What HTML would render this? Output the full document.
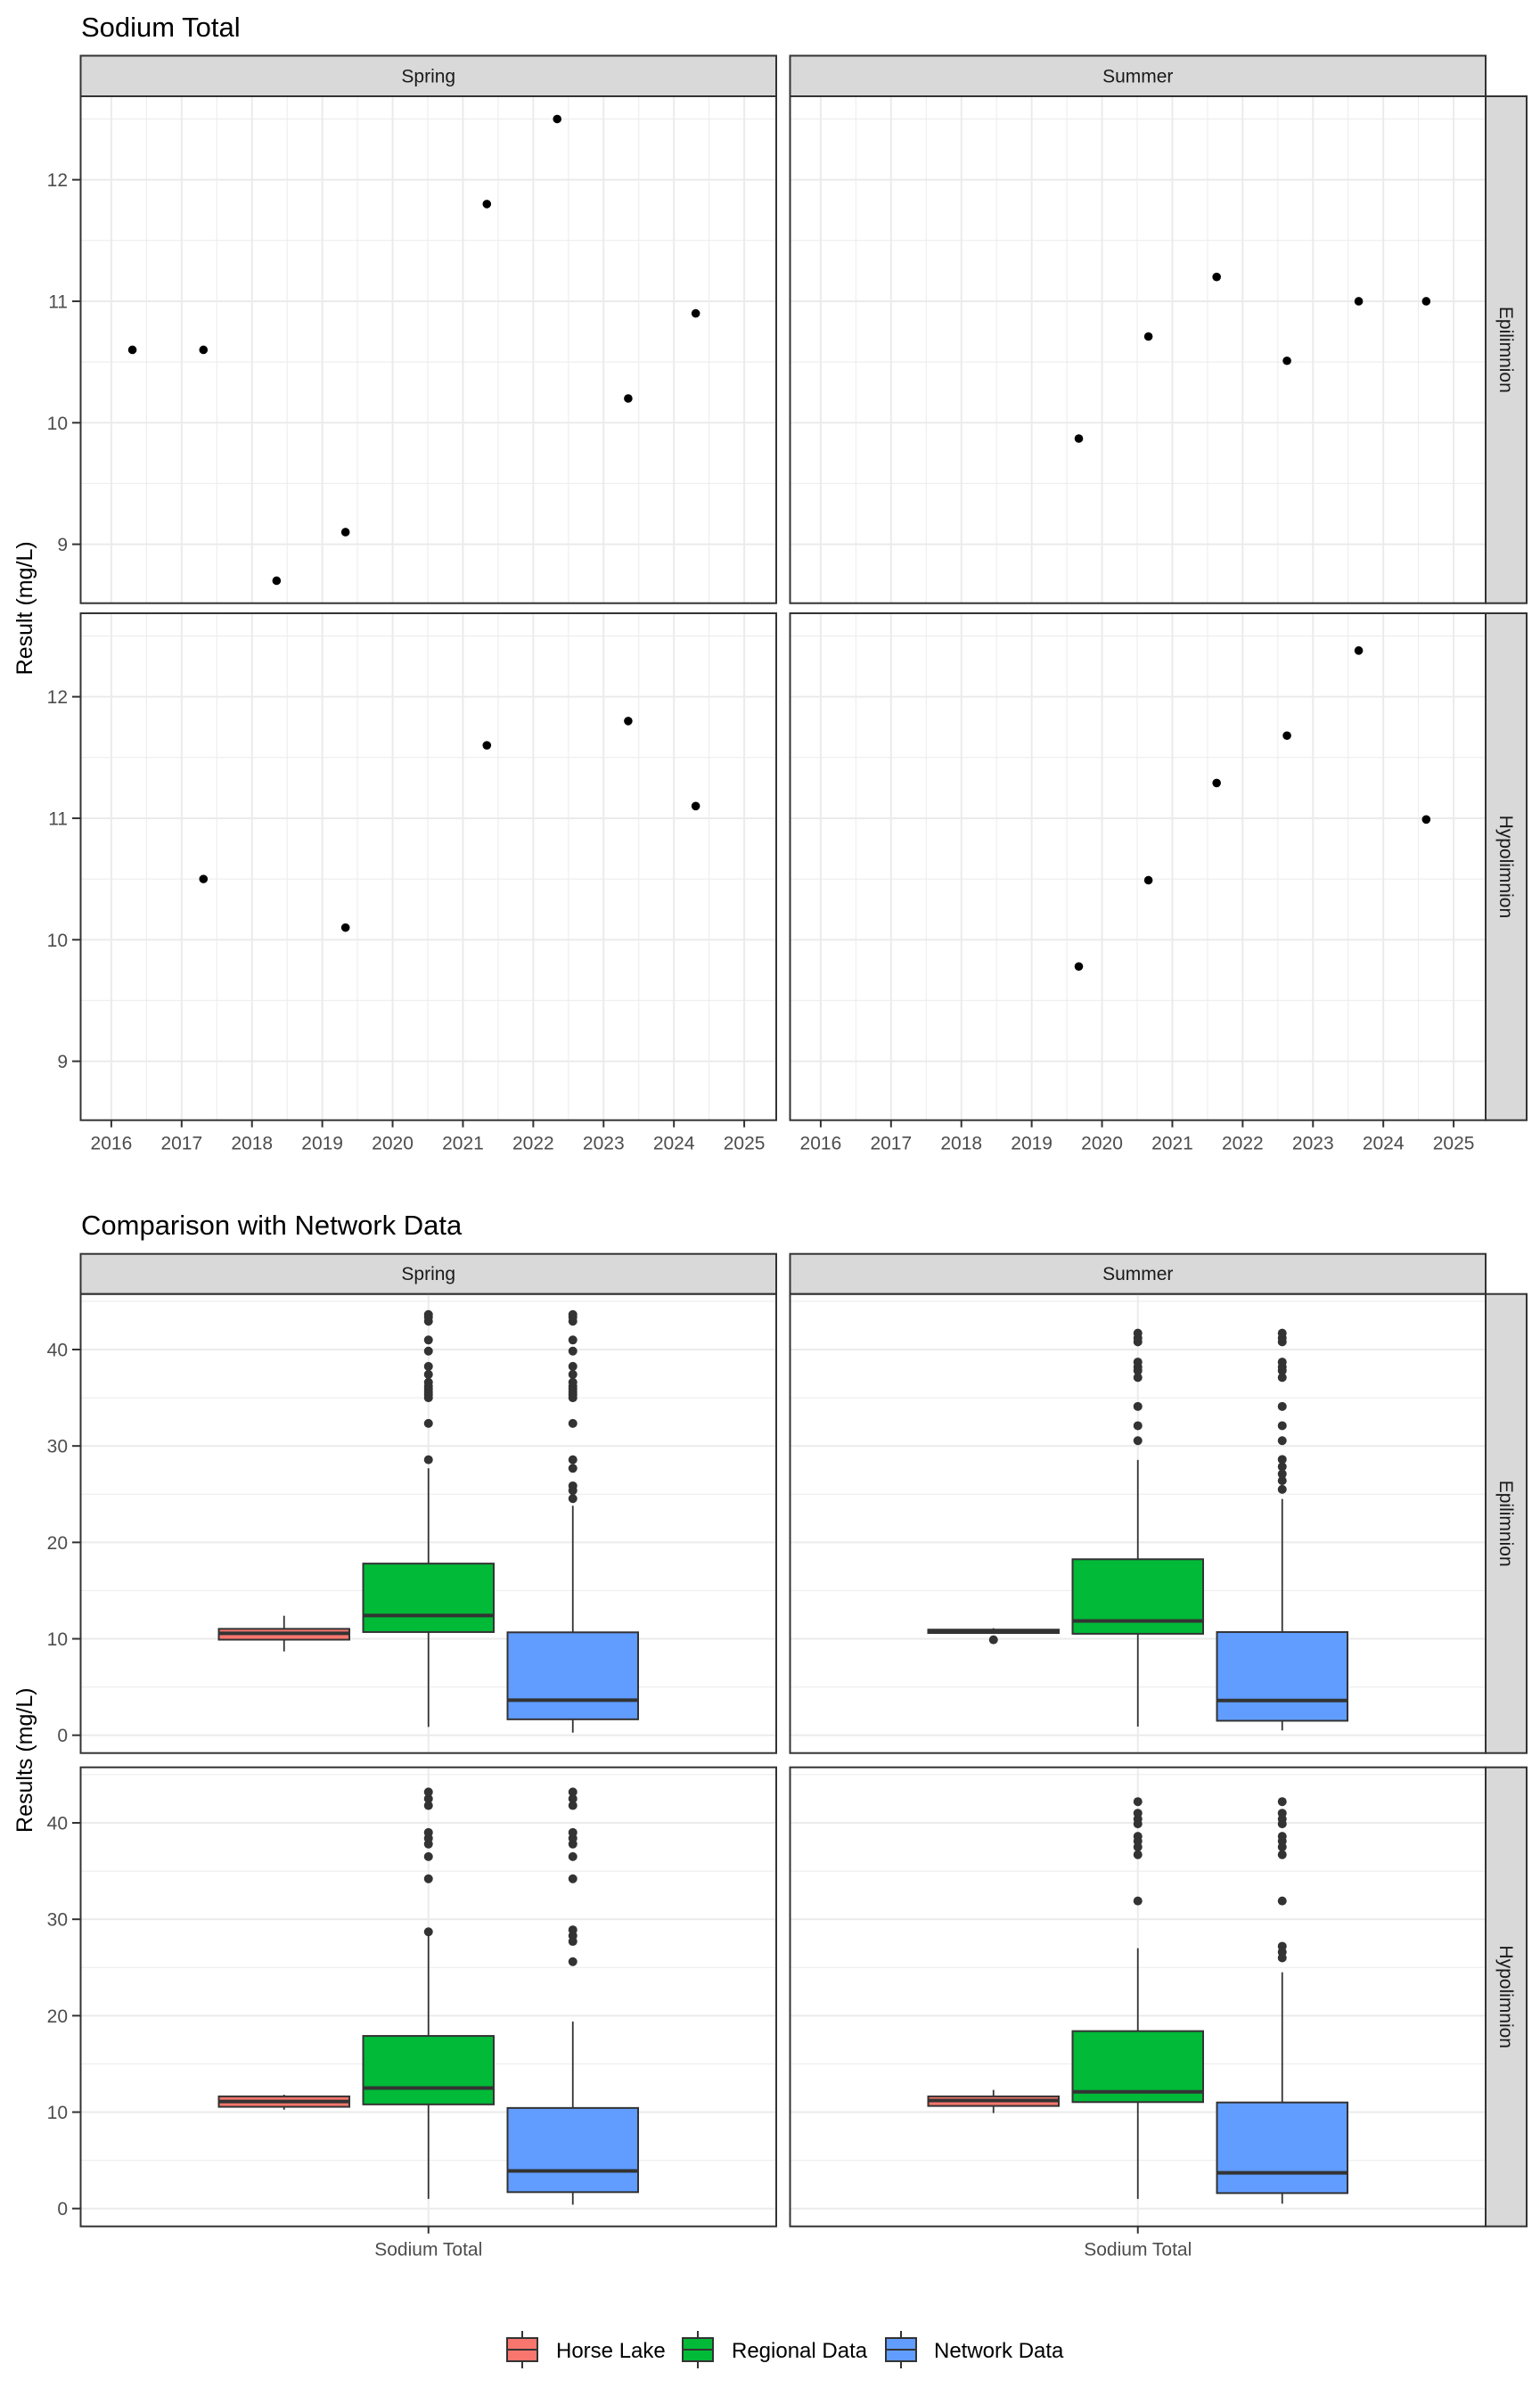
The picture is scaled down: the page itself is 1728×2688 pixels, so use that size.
<!DOCTYPE html>
<html><head><meta charset="utf-8"><title>Sodium Total</title>
<style>
html,body{margin:0;padding:0;background:#fff;}
svg{display:block;font-family:"Liberation Sans",Arial,sans-serif;}
</style></head>
<body>
<svg id="chart" width="1728" height="2688" viewBox="0 0 1728 2688" xmlns="http://www.w3.org/2000/svg">
<rect width="1728" height="2688" fill="#fff"/>
<g id="top"></g><g id="bottom"></g>
</svg>
<script>
// ---------- Data: scatter (Sodium Total over years) ----------
const yearTicks = [2016,2017,2018,2019,2020,2021,2022,2023,2024,2025];
const scatterYTicks = [9,10,11,12];
const springEpiYears = [2016.30,2017.31,2018.35,2019.33,2021.34,2022.34,2023.35,2024.31];
const springEpiValues = [10.6,10.6,8.7,9.1,11.8,12.5,10.2,10.9];
const summerEpiYears = [2019.67,2020.66,2021.63,2022.63,2023.65,2024.61];
const summerEpiValues = [9.87,10.71,11.2,10.51,11.0,11.0];
const springHypoYears = [2017.31,2019.33,2021.34,2023.35,2024.31];
const springHypoValues = [10.5,10.1,11.6,11.8,11.1];
const summerHypoYears = [2019.67,2020.66,2021.63,2022.63,2023.65,2024.61];
const summerHypoValues = [9.78,10.49,11.29,11.68,12.38,10.99];

// ---------- Data: boxplots [lowWhisker,q1,median,q3,highWhisker] ----------
const groups = ["Horse Lake","Regional Data","Network Data"];
const boxYTicks = [0,10,20,30,40];
const springEpiBoxes = [[8.69,9.91,10.57,11.03,12.39],[0.86,10.70,12.42,17.80,27.68],[0.27,1.65,3.64,10.67,23.8]];
const springEpiOutliers = [[],
  [28.57,32.34,35.0,35.3,35.6,35.9,36.2,36.6,37.42,38.25,39.84,40.99,42.94,43.37,43.63],
  [24.54,25.37,25.86,27.68,28.57,32.34,35.0,35.3,35.6,35.9,36.2,36.6,37.42,38.25,39.84,40.99,42.94,43.37,43.63]];
const summerEpiBoxes = [[10.5,10.6,10.75,10.95,11.1],[0.9,10.52,11.85,18.25,28.55],[0.5,1.5,3.6,10.7,24.5]];
const summerEpiOutliers = [[9.9],
  [30.55,32.1,34.1,37.1,37.8,38.2,38.7,40.8,41.2,41.7],
  [25.5,26.4,27.1,27.85,28.6,30.55,32.1,34.1,37.1,37.8,38.2,38.7,40.8,41.2,41.7]];
const springHypoBoxes = [[10.25,10.55,11.1,11.63,11.8],[1.0,10.8,12.5,17.9,28.5],[0.4,1.7,3.9,10.43,19.4]];
const springHypoOutliers = [[],
  [28.7,34.2,36.5,37.8,38.4,39.0,41.8,42.5,43.2],
  [25.6,27.7,28.3,28.9,34.2,36.5,37.8,38.4,39.0,41.8,42.5,43.2]];
const summerHypoBoxes = [[9.9,10.64,11.2,11.63,12.3],[1.0,11.04,12.1,18.4,27.0],[0.5,1.6,3.7,11.0,24.5]];
const summerHypoOutliers = [[],
  [31.9,36.7,37.5,38.1,38.6,39.9,40.4,41.0,42.2],
  [26.0,26.6,27.2,31.9,36.7,37.5,38.1,38.6,39.9,40.4,41.0,42.2]];
const fills = ["#F8766D","#00BA38","#619CFF"];

// ---------- helpers ----------
const NS = "http://www.w3.org/2000/svg";
function mk(parent, tag, attrs, text){
  const e = document.createElementNS(NS, tag);
  for (const k in attrs) e.setAttribute(k, attrs[k]);
  if (text !== undefined) e.textContent = text;
  parent.appendChild(e);
  return e;
}
const cols = [[90.5,871],[886.5,1667]];
const colNames = ["Spring","Summer"];
const rowNames = ["Epilimnion","Hypolimnion"];

function drawStrips(g, stripTop, stripBot, rows){
  cols.forEach((c,i)=>{
    const r = mk(g,"rect",{x:c[0],y:stripTop,width:c[1]-c[0],height:stripBot-stripTop,fill:"#D9D9D9",stroke:"#333",'stroke-width':2});
    
    
    const t = mk(g,"text",{x:(c[0]+c[1])/2,y:(stripTop+stripBot)/2+7,'text-anchor':'middle','font-size':21,fill:'#1A1A1A'},colNames[i]);
    
    
  });
  rows.forEach((rw,i)=>{
    const r = mk(g,"rect",{x:1667,y:rw[0],width:46,height:rw[1]-rw[0],fill:"#D9D9D9",stroke:"#333",'stroke-width':2});
    
    
    const cy=(rw[0]+rw[1])/2;
    const t = mk(g,"text",{x:1690,y:cy,'text-anchor':'middle','font-size':21,fill:'#1A1A1A',transform:`rotate(90 1690 ${cy}) translate(0 7)`},rowNames[i]);
    
    
  });
}

// ---------- TOP: scatter ----------
(function(){
  const g = document.getElementById('top');
  const rows = [[108,676.7],[688,1256.7]];
  const yDom = [8.515,12.687], xDom=[2015.564,2025.455];
  const title = mk(g,"text",{x:91,y:41,'font-size':31,fill:'#000'},"Sodium Total");
  
  
  drawStrips(g, 62.5, 108, rows);
  const data = [[[springEpiYears,springEpiValues],[summerEpiYears,summerEpiValues]],
                [[springHypoYears,springHypoValues],[summerHypoYears,summerHypoValues]]];
  rows.forEach((rw,ri)=>{
    const ys = v => rw[1] - (v-yDom[0])/(yDom[1]-yDom[0])*(rw[1]-rw[0]);
    cols.forEach((c,ci)=>{
      const xs = v => c[0] + (v-xDom[0])/(xDom[1]-xDom[0])*(c[1]-c[0]);
      const p = mk(g,"g",{});
      
      
      // minor grid
      for (let k=0;k<yearTicks.length-1;k++){ const x=xs(yearTicks[k]+0.5); mk(p,"line",{x1:x,x2:x,y1:rw[0],y2:rw[1],stroke:'#EBEBEB','stroke-width':1}); }
      for (let k=0;k<scatterYTicks.length;k++){ const y=ys(scatterYTicks[k]+0.5); if(y>rw[0]) mk(p,"line",{x1:c[0],x2:c[1],y1:y,y2:y,stroke:'#EBEBEB','stroke-width':1}); }
      const y85=ys(8.5); if(y85<rw[1]) mk(p,"line",{x1:c[0],x2:c[1],y1:y85,y2:y85,stroke:'#EBEBEB','stroke-width':1});
      // major grid
      yearTicks.forEach(t=>{ const x=xs(t); mk(p,"line",{x1:x,x2:x,y1:rw[0],y2:rw[1],stroke:'#EBEBEB','stroke-width':2}); });
      scatterYTicks.forEach(t=>{ const y=ys(t); mk(p,"line",{x1:c[0],x2:c[1],y1:y,y2:y,stroke:'#EBEBEB','stroke-width':2}); });
      const [xv,yv] = data[ri][ci];
      xv.forEach((yr,k)=>{
        const d = mk(p,"circle",{cx:xs(yr),cy:ys(yv[k]),r:4.8,fill:'#000'});
        
        
      });
      mk(p,"rect",{x:c[0],y:rw[0],width:c[1]-c[0],height:rw[1]-rw[0],fill:'none',stroke:'#333','stroke-width':2});
      if (ci===0){
        scatterYTicks.forEach(t=>{ const y=ys(t);
          mk(g,"line",{x1:81,x2:c[0],y1:y,y2:y,stroke:'#333','stroke-width':2});
          const tl = mk(g,"text",{x:76,y:y+7.5,'text-anchor':'end','font-size':21,fill:'#4D4D4D'},String(t));
          
          
        });
      }
      if (ri===1){
        yearTicks.forEach(t=>{ const x=xs(t);
          mk(g,"line",{x1:x,x2:x,y1:rw[1],y2:rw[1]+8,stroke:'#333','stroke-width':2});
          const tl = mk(g,"text",{x:x,y:rw[1]+33,'text-anchor':'middle','font-size':21,fill:'#4D4D4D'},String(t));
          
          
        });
      }
    });
  });
  const cy=(108+1256.7)/2;
  const at = mk(g,"text",{x:36,y:cy,'text-anchor':'middle','font-size':25,fill:'#000',transform:`rotate(-90 36 ${cy})`},"Result (mg/L)");
  
  
})();

// ---------- BOTTOM: boxplots ----------
(function(){
  const g = document.getElementById('bottom');
  const rows = [[1451.7,1966.7],[1982.7,2497.7]];
  const yDom = [-1.85,45.76];
  const title = mk(g,"text",{x:91,y:1385,'font-size':31,fill:'#000'},"Comparison with Network Data");
  
  
  drawStrips(g, 1406.7, 1451.7, rows);
  const boxes = [[springEpiBoxes,summerEpiBoxes],[springHypoBoxes,summerHypoBoxes]];
  const outs = [[springEpiOutliers,summerEpiOutliers],[springHypoOutliers,summerHypoOutliers]];
  const dodge = 162, bw = 146.5;
  rows.forEach((rw,ri)=>{
    const ys = v => rw[1] - (v-yDom[0])/(yDom[1]-yDom[0])*(rw[1]-rw[0]);
    cols.forEach((c,ci)=>{
      const cx0 = (c[0]+c[1])/2;
      const p = mk(g,"g",{});
      
      
      [5,15,25,35,45].forEach(t=>{ const y=ys(t); mk(p,"line",{x1:c[0],x2:c[1],y1:y,y2:y,stroke:'#EBEBEB','stroke-width':1}); });
      boxYTicks.forEach(t=>{ const y=ys(t); mk(p,"line",{x1:c[0],x2:c[1],y1:y,y2:y,stroke:'#EBEBEB','stroke-width':2}); });
      mk(p,"line",{x1:cx0,x2:cx0,y1:rw[0],y2:rw[1],stroke:'#EBEBEB','stroke-width':2});
      groups.forEach((gn,gi)=>{
        const s = boxes[ri][ci][gi];
        const cx = cx0 + (gi-1)*dodge;
        const bg = mk(p,"g",{});
        
        
        mk(bg,"line",{x1:cx,x2:cx,y1:ys(s[4]),y2:ys(s[3]),stroke:'#333','stroke-width':1.8});
        mk(bg,"line",{x1:cx,x2:cx,y1:ys(s[1]),y2:ys(s[0]),stroke:'#333','stroke-width':1.8});
        mk(bg,"rect",{x:cx-bw/2,y:ys(s[3]),width:bw,height:Math.max(ys(s[1])-ys(s[3]),0.5),fill:fills[gi],stroke:'#333','stroke-width':2});
        mk(bg,"line",{x1:cx-bw/2,x2:cx+bw/2,y1:ys(s[2]),y2:ys(s[2]),stroke:'#333','stroke-width':4});
        outs[ri][ci][gi].forEach(v=>{
          const o = mk(bg,"circle",{cx:cx,cy:ys(v),r:5,fill:'#333'});
          
          
        });
      });
      mk(p,"rect",{x:c[0],y:rw[0],width:c[1]-c[0],height:rw[1]-rw[0],fill:'none',stroke:'#333','stroke-width':2});
      if (ci===0){
        boxYTicks.forEach(t=>{ const y=ys(t);
          mk(g,"line",{x1:81,x2:c[0],y1:y,y2:y,stroke:'#333','stroke-width':2});
          const tl = mk(g,"text",{x:76,y:y+7.5,'text-anchor':'end','font-size':21,fill:'#4D4D4D'},String(t));
          
          
        });
      }
      if (ri===1){
        mk(g,"line",{x1:cx0,x2:cx0,y1:rw[1],y2:rw[1]+8,stroke:'#333','stroke-width':2});
        const tl = mk(g,"text",{x:cx0,y:rw[1]+33,'text-anchor':'middle','font-size':21,fill:'#4D4D4D'},"Sodium Total");
        
        
      }
    });
  });
  const cy=(1451.7+2497.7)/2;
  const at = mk(g,"text",{x:36,y:cy,'text-anchor':'middle','font-size':25,fill:'#000',transform:`rotate(-90 36 ${cy})`},"Results (mg/L)");
  
  

  // legend
  const lg = mk(g,"g",{});
  
  
  const keyX = [569,766,994], textX = [624,821,1048], ly = 2636;
  groups.forEach((gn,gi)=>{
    const e = mk(lg,"g",{});
    
    
    const kx = keyX[gi]+17;
    mk(e,"line",{x1:kx,x2:kx,y1:ly-21,y2:ly+21,stroke:'#333','stroke-width':2});
    mk(e,"rect",{x:keyX[gi],y:ly-13,width:34,height:26,fill:fills[gi],stroke:'#333','stroke-width':2});
    mk(e,"line",{x1:keyX[gi],x2:keyX[gi]+34,y1:ly,y2:ly,stroke:'#333','stroke-width':2});
    mk(e,"text",{x:textX[gi],y:ly+9,'font-size':24,fill:'#000'},gn);
  });
})();
</script>
</body></html>
